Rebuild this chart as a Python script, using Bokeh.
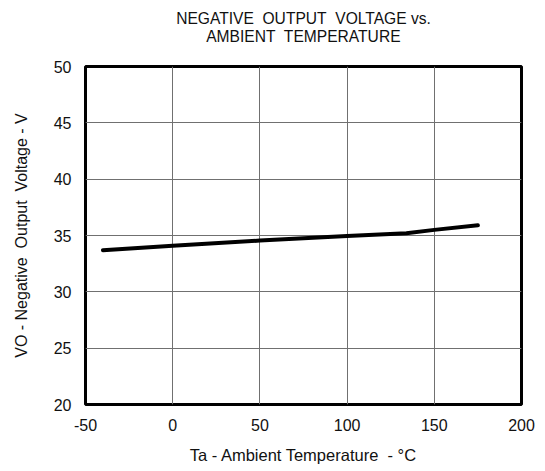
from bokeh.plotting import figure
from bokeh.models import Range1d, FixedTicker, Title, PrintfTickFormatter
from bokeh.embed import file_html
from bokeh.resources import INLINE

temp_c = [-40, 0, 50, 100, 134, 150, 175]
vo_volts = [33.7, 34.1, 34.55, 34.95, 35.2, 35.5, 35.9]

x_ticks = [-50, 0, 50, 100, 150, 200]
y_ticks = [20, 25, 30, 35, 40, 45, 50]
NB = "\u00a0"
title_lines = [f"NEGATIVE{NB} OUTPUT{NB} VOLTAGE vs.", f"AMBIENT{NB} TEMPERATURE"]
x_label = f"Ta - Ambient Temperature{NB} - °C"
y_label = f"VO - Negative{NB} Output{NB} Voltage - V"

FONT = "Liberation Sans"
TFS = "15.6px"

p = figure(frame_width=436, frame_height=338, output_backend="svg", toolbar_location=None,
           x_range=Range1d(-50, 200), y_range=Range1d(20, 50),
           min_border_left=85, min_border_right=24, min_border_top=0, min_border_bottom=65,
           title=None)

# panels above the frame, stacked outward: spacer, second title line, first title line
p.add_layout(Title(text=NB, align="center", text_font=FONT, text_font_size=TFS,
                   text_color="white", standoff=11), "above")
p.add_layout(Title(text=title_lines[1], align="center", text_font=FONT, text_font_size=TFS,
                   text_font_style="normal", text_color="#111111", standoff=-16), "above")
p.add_layout(Title(text=title_lines[0], align="center", text_font=FONT, text_font_size=TFS,
                   text_font_style="normal", text_color="#111111", standoff=14), "above")

p.outline_line_color = "black"
p.outline_line_width = 3
p.background_fill_color = "white"
p.border_fill_color = "white"

for ax in (p.xaxis[0], p.yaxis[0]):
    ax.axis_line_color = None
    ax.major_tick_line_color = None
    ax.minor_tick_line_color = None
    ax.major_tick_out = 0
    ax.major_tick_in = 0
    ax.minor_tick_out = 0
    ax.major_label_text_font = FONT
    ax.major_label_text_font_size = "16px"
    ax.major_label_text_color = "#111111"
    ax.axis_label_text_font = FONT
    ax.axis_label_text_font_style = "normal"
    ax.axis_label_text_color = "#111111"
    ax.formatter = PrintfTickFormatter(format="%d")

p.xaxis.axis_label_text_font_size = "16.5px"
p.yaxis.axis_label_text_font_size = "16px"
p.xaxis.ticker = FixedTicker(ticks=x_ticks)
p.yaxis.ticker = FixedTicker(ticks=y_ticks)
p.xaxis.axis_label = x_label
p.yaxis.axis_label = y_label
p.xaxis.major_label_standoff = 14
p.yaxis.major_label_standoff = 14
p.xaxis.axis_label_standoff = 12
p.yaxis.axis_label_standoff = 21

p.xgrid.ticker = FixedTicker(ticks=x_ticks)
p.ygrid.ticker = FixedTicker(ticks=y_ticks)
p.grid.grid_line_color = "#707070"
p.grid.grid_line_width = 1
p.grid.grid_line_alpha = 1

p.line(temp_c, vo_volts, line_color="black", line_width=4, line_cap="round")

open("out.html", "w").write(file_html(p, INLINE))
